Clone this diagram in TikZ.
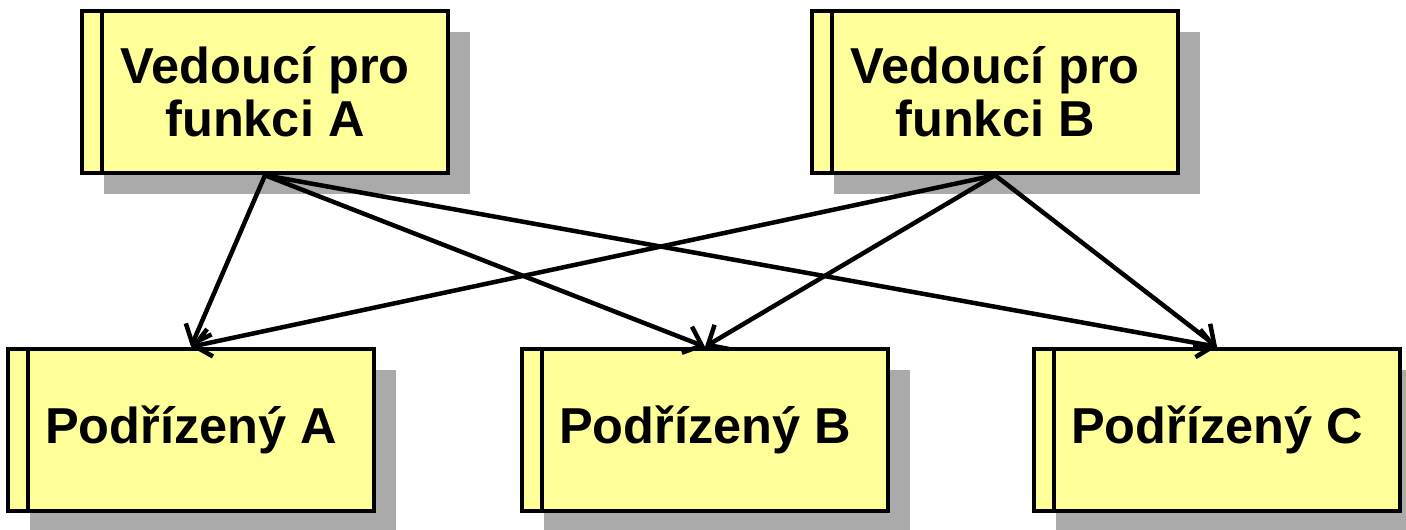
\documentclass[tikz,border=0pt]{standalone}
\usepackage{fontspec}
\setmainfont{Liberation Sans}
\usetikzlibrary{shadows,arrows.meta}
\definecolor{boxyellow}{HTML}{FFFF99}
\definecolor{shadowgray}{HTML}{AAAAAA}
\begin{document}
\begin{tikzpicture}[x=1pt,y=-1pt,
  umlbox/.style={draw=black,line width=4.5pt,fill=boxyellow,
    minimum width=366pt,minimum height=162pt,inner sep=0pt,
    align=center,font=\fontsize{50.5}{53}\selectfont\bfseries,
    drop shadow={shadow xshift=22pt,shadow yshift=-21pt,fill=shadowgray,opacity=1},
    path picture={\draw[line width=4pt]
      ([xshift=20pt]path picture bounding box.north west) --
      ([xshift=20pt]path picture bounding box.south west);}},
  link/.style={line width=4.5pt,-{Straight Barb[length=16pt,width=28pt,line width=4.5pt]}}]
\useasboundingbox (0,0) rectangle (1406,530);
\node[umlbox] (va) at (265,92) {Vedoucí pro\\funkci A};
\node[umlbox] (vb) at (995,92) {Vedoucí pro\\funkci B};
\node[umlbox] (pa) at (191,430) {Podřízený A};
\node[umlbox] (pb) at (705,430) {Podřízený B};
\node[umlbox] (pc) at (1217,430) {Podřízený C};
\draw[link] (va.south) -- (pa.north);
\draw[link] (va.south) -- (pb.north);
\draw[link] (va.south) -- (pc.north);
\draw[link] (vb.south) -- (pa.north);
\draw[link] (vb.south) -- (pb.north);
\draw[link] (vb.south) -- (pc.north);
\end{tikzpicture}
\end{document}
